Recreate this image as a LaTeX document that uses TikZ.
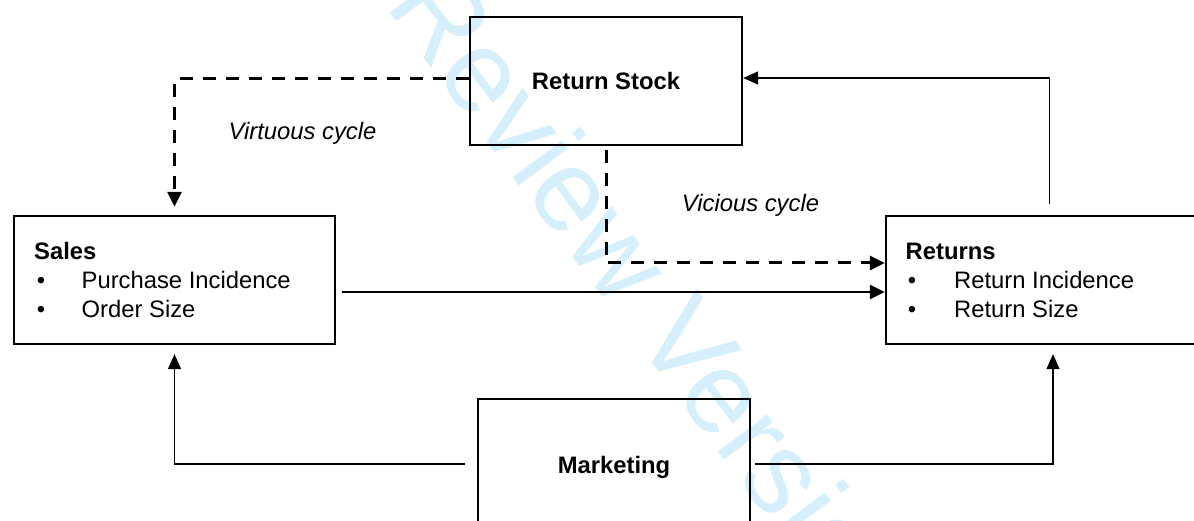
\documentclass[tikz,border=0pt]{standalone}
\usepackage{fontspec}
\setmainfont{Liberation Sans}
\usetikzlibrary{arrows.meta}
\definecolor{wmblue}{RGB}{213,240,252}
\tikzset{
  box/.style={draw=black, line width=2.3pt, fill=none, inner sep=0pt},
  txt/.style={inner sep=0pt, font=\fontsize{23.8}{28.5}\selectfont},
  ttl/.style={txt, font=\fontsize{23.8}{28.5}\selectfont\bfseries},
  lbl/.style={txt, font=\fontsize{23.8}{28.5}\selectfont\itshape},
  dasharrow/.style={line width=3pt, dash pattern=on 13pt off 10pt, -{Triangle[length=15pt,width=14pt]}},
  thickarrow/.style={line width=2.5pt, -{Triangle[length=15pt,width=14pt]}},
  thinarrow/.style={line width=1.2pt, -{Triangle[length=15pt,width=13pt]}},
  wm/.style={inner sep=0pt, text=wmblue, font=\fontsize{116.3}{120}\selectfont}
}
\begin{document}
\begin{tikzpicture}[x=1pt, y=-1pt]
\useasboundingbox (0,0) rectangle (1194,521);
\clip (0,0) rectangle (1194,521);
\fill[white] (0,0) rectangle (1194,521);
% watermark
\node[wm, anchor=base west, rotate=-53.2] (wmk) at (384.3,5.4) {Review Version};
% boxes
\node[box, minimum width=272pt, minimum height=128pt] (rs) at (606,81) {};
\node[box, minimum width=321pt, minimum height=128pt] (sales) at (174.5,280) {};
\node[box, minimum width=320pt, minimum height=128pt] (ret) at (1046,280) {};
\node[box, minimum width=272pt, minimum height=146pt] (mk) at (614,472) {};
% texts
\node[ttl, anchor=base] (rst) at (606,90) {Return Stock};
\node[ttl, anchor=base] (mkt) at (614,473) {Marketing};
\node[lbl, anchor=base] (vir) at (302.5,140) {Virtuous cycle};
\node[lbl, anchor=base] (vic) at (750.5,212) {Vicious cycle};
\node[ttl, anchor=base west] (st) at (34,260) {Sales};
\node[txt, anchor=base] (sb1) at (41,288.5) {\textbullet};
\node[txt, anchor=base west] (s1) at (81.5,288.5) {Purchase Incidence};
\node[txt, anchor=base] (sb2) at (41,317) {\textbullet};
\node[txt, anchor=base west] (s2) at (81.5,317) {Order Size};
\node[ttl, anchor=base west] (rt) at (905.5,260) {Returns};
\node[txt, anchor=base] (rb1) at (912,288.5) {\textbullet};
\node[txt, anchor=base west] (r1) at (954,288.5) {Return Incidence};
\node[txt, anchor=base] (rb2) at (912,317) {\textbullet};
\node[txt, anchor=base west] (r2) at (954,317) {Return Size};
% connectors
\draw[dasharrow, shorten >=8pt] ([yshift=2pt]rs.west) -| (sales.north);
\draw[dasharrow, shorten <=4pt] (rs.south) |- ([yshift=17pt]ret.west);
\draw[thickarrow, shorten <=6pt] ([yshift=-12pt]sales.east) -- ([yshift=-12pt]ret.west);
\draw[thinarrow, shorten <=11pt] ([xshift=3.5pt]ret.north) |- ([yshift=3pt]rs.east);
\draw[thinarrow, shorten <=12pt, shorten >=9pt] ([yshift=8pt]mk.west) -| (sales.south);
\draw[thinarrow, shorten <=4pt, shorten >=9pt] ([yshift=8pt]mk.east) -| ([xshift=7pt]ret.south);
\end{tikzpicture}
\end{document}
